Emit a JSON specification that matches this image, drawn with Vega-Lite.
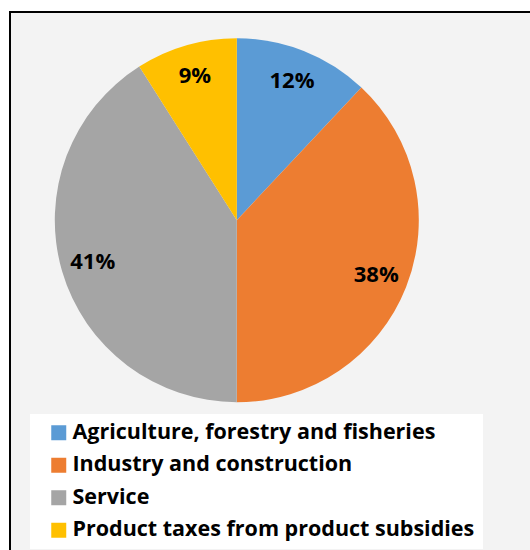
{
  "$schema": "https://vega.github.io/schema/vega-lite/v6.json",
  "width": 525,
  "height": 545,
  "autosize": {"type": "none"},
  "padding": {"left": 10, "top": 12, "right": 0, "bottom": 0},
  "background": "white",
  "config": {"view": {"fill": "#f3f3f3", "stroke": "#000000", "strokeWidth": 2}},
  "data": {
    "values": [
      {"sector": "Agriculture, forestry and fisheries", "share": 0.12, "rank": 1},
      {"sector": "Industry and construction", "share": 0.38, "rank": 2},
      {"sector": "Service", "share": 0.41, "rank": 3},
      {"sector": "Product taxes from product subsidies", "share": 0.09, "rank": 4}
    ]
  },
  "encoding": {
    "theta": {"field": "share", "type": "quantitative", "stack": true},
    "order": {"field": "rank", "type": "quantitative"},
    "x": {"datum": 43.2, "type": "quantitative", "scale": {"domain": [0, 100]}, "axis": null},
    "y": {"datum": 38.2, "type": "quantitative", "scale": {"domain": [0, 100], "reverse": true}, "axis": null}
  },
  "layer": [
    {
      "mark": {"type": "arc", "outerRadius": 182},
      "encoding": {
        "color": {
          "field": "sector",
          "type": "nominal",
          "sort": ["Agriculture, forestry and fisheries", "Industry and construction", "Service", "Product taxes from product subsidies"],
          "scale": {
            "domain": ["Agriculture, forestry and fisheries", "Industry and construction", "Service", "Product taxes from product subsidies"],
            "range": ["#5B9BD5", "#ED7D31", "#A5A5A5", "#FFC000"]
          },
          "legend": {
            "orient": "none",
            "legendX": 20,
            "legendY": 402,
            "title": null,
            "fillColor": "white",
            "padding": 8,
            "symbolType": "square",
            "symbolSize": 225,
            "symbolStrokeWidth": 0,
            "symbolOpacity": 1,
            "symbolOffset": 10,
            "labelFont": "Open Sans",
            "labelFontWeight": "bold",
            "labelFontSize": 21.5,
            "labelColor": "#000000",
            "labelLimit": 0,
            "labelOffset": 3,
            "rowPadding": 9.5
          }
        }
      }
    },
    {
      "mark": {"type": "text", "radius": 150, "font": "Open Sans", "fontWeight": "bold", "fontSize": 22, "color": "#000000"},
      "encoding": {
        "detail": {"field": "sector", "type": "nominal"},
        "text": {"field": "share", "type": "quantitative", "format": ".0%"}
      }
    }
  ]
}
